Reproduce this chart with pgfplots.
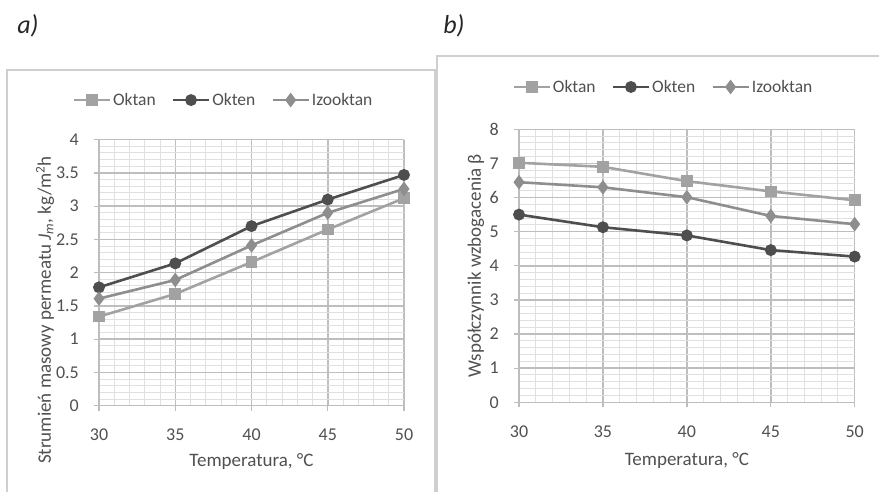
\documentclass[border=0pt]{standalone}
\usepackage{fontspec}
\setmainfont{Carlito}
\usepackage{pgfplots}
\pgfplotsset{compat=1.18}

\definecolor{oktan}{HTML}{A2A2A2}
\definecolor{okten}{HTML}{4E4E4E}
\definecolor{izo}{HTML}{8E8E8E}
\definecolor{gridmaj}{HTML}{BEBEBE}
\definecolor{gridmin}{HTML}{E0E0E0}
\definecolor{axisc}{HTML}{BDBDBD}
\definecolor{txt}{HTML}{505050}
\definecolor{frame}{HTML}{CFCFCF}

\pgfplotsset{
  xlstyle/.style={
    scale only axis,
    anchor=south west,
    xmin=30, xmax=50,
    xtick={30,35,40,45,50},
    minor x tick num=4,
    grid=both,
    major grid style={draw=gridmaj, line width=1.5pt},
    minor grid style={draw=gridmin, line width=1pt},
    axis lines*=left,
    axis line style={draw=axisc, line width=1.4pt},
    tick align=outside,
    major tick length=5pt,
    minor tick length=0pt,
    tick style={draw=axisc, line width=1.3pt},
    /pgf/number format/assume math mode=true,
    tick label style={font=\fontsize{18}{20}\selectfont, text=txt, inner sep=0pt},
    xticklabel style={anchor=base, yshift=-30pt},
    yticklabel style={anchor=east, xshift=-15pt},
    legend columns=3,
    legend style={draw=none, fill=none, font=\fontsize{17.5}{20}\selectfont, text=txt,
      /tikz/every even column/.append style={column sep=14pt},
      nodes={inner sep=2pt}},
    legend image code/.code={
      \draw[mark repeat=2, mark phase=2, #1] plot coordinates {(0pt,0pt) (18pt,0pt) (36pt,0pt)};
    },
    every axis plot/.append style={line width=2.6pt, mark options={solid}},
  },
  s1/.style={color=oktan, mark=square*, mark size=4.6pt},
  s2/.style={color=okten, mark=*, mark size=4.6pt},
  s3/.style={color=izo, mark=diamond*, mark size=5.2pt},
}

\begin{document}
\begin{tikzpicture}
\useasboundingbox (0,0) rectangle (879pt,492pt);

% panel frames and letters
\draw[frame, line width=1.3pt] (7pt,-20pt) -- (7pt,422pt) -- (435pt,422pt) -- (435pt,-20pt);
\draw[frame, line width=1.3pt] (437pt,-20pt) -- (437pt,436pt) -- (900pt,436pt);
\node[font=\fontsize{26}{28}\selectfont\itshape, text=black!85] at (28pt,466pt) {a)};
\node[font=\fontsize{26}{28}\selectfont\itshape, text=black!85] at (454pt,466pt) {b)};

% a) mass flux
\begin{axis}[
  xlstyle,
  at={(99pt,86.3pt)},
  width=305pt, height=266pt,
  ymin=0, ymax=4,
  ytick={0,0.5,...,4},
  minor y tick num=4,
  yticklabel style={/pgf/number format/.cd, fixed, precision=1},
  xlabel={Temperatura, °C},
  ylabel={Strumień masowy permeatu \textit{J}\textsubscript{\textit{m}}, kg/m\textsuperscript{2}h},
  every axis x label/.style={at={(axis description cs:0.5,-0.23)}, anchor=base,
    font=\fontsize{19}{22}\selectfont, text=txt},
  every axis y label/.style={at={(axis description cs:-0.177,0.36)}, rotate=90, anchor=center,
    font=\fontsize{19}{22}\selectfont, text=txt},
  legend style={at={(axis description cs:0.408,1.149)}, anchor=center},
]
\addplot[s1] coordinates {(30,1.34) (35,1.68) (40,2.16) (45,2.65) (50,3.12)};
\addplot[s2] coordinates {(30,1.78) (35,2.14) (40,2.70) (45,3.10) (50,3.47)};
\addplot[s3] coordinates {(30,1.61) (35,1.89) (40,2.41) (45,2.90) (50,3.26)};
\legend{Oktan, Okten, Izooktan}
\end{axis}

% b) enrichment factor
\begin{axis}[
  xlstyle,
  at={(519pt,89.7pt)},
  width=335.7pt, height=273pt,
  ymin=0, ymax=8,
  ytick={0,1,...,8},
  minor y tick num=4,
  xlabel={Temperatura, °C},
  ylabel={Współczynnik wzbogacenia β},
  every axis x label/.style={at={(axis description cs:0.5,-0.23)}, anchor=base,
    font=\fontsize{19}{22}\selectfont, text=txt},
  every axis y label/.style={at={(axis description cs:-0.128,0.5)}, rotate=90, anchor=center,
    font=\fontsize{19}{22}\selectfont, text=txt},
  legend style={at={(axis description cs:0.43,1.155)}, anchor=center},
]
\addplot[s1] coordinates {(30,7.02) (35,6.90) (40,6.48) (45,6.18) (50,5.92)};
\addplot[s2] coordinates {(30,5.50) (35,5.13) (40,4.89) (45,4.46) (50,4.27)};
\addplot[s3] coordinates {(30,6.45) (35,6.30) (40,6.01) (45,5.46) (50,5.22)};
\legend{Oktan, Okten, Izooktan}
\end{axis}
\end{tikzpicture}
\end{document}
